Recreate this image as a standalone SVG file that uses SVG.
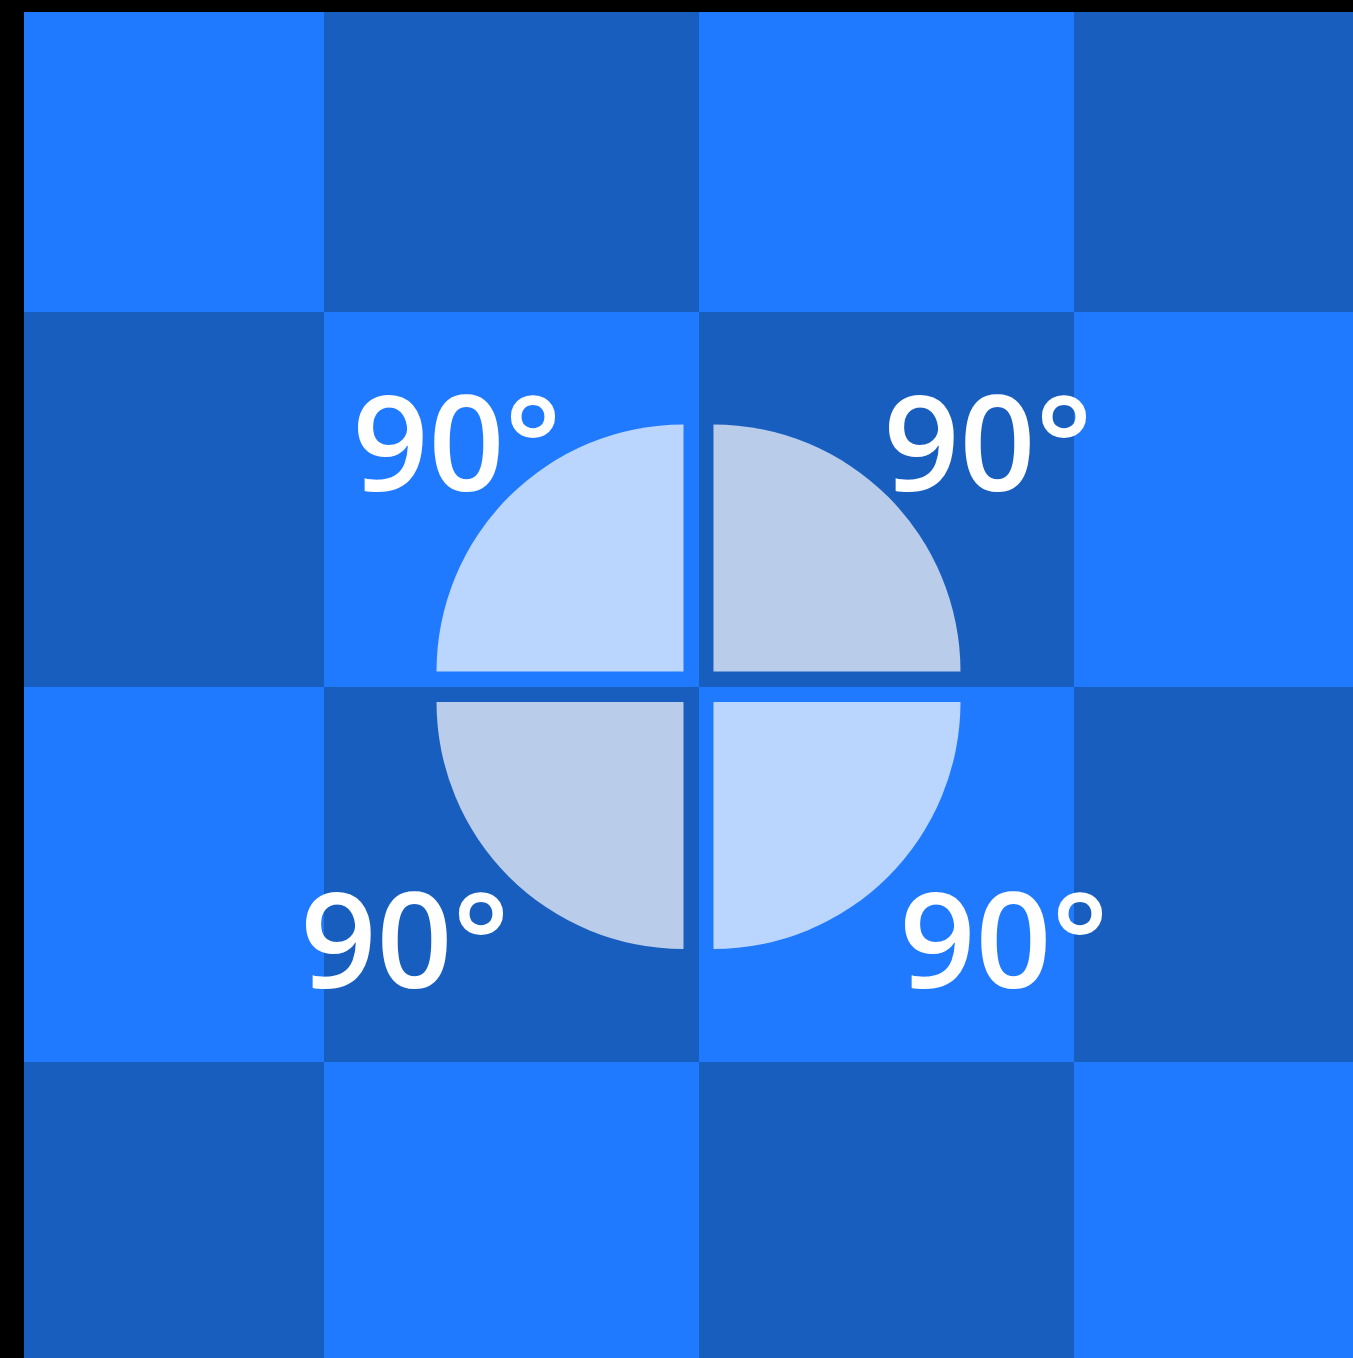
<svg xmlns="http://www.w3.org/2000/svg" width="1353" height="1358" viewBox="0 0 1353 1358">
<style>
.l{fill:#1f7aff}.d{fill:#185ebf}
.qa{fill:#bad6fe}.qb{fill:#b9cdeb}
.t{font-family:"Open Sans",sans-serif;font-weight:600;font-size:133px;fill:#ffffff;text-anchor:middle}
</style>
<rect x="0" y="0" width="1353" height="1358" fill="#000000"/>
<g id="grid">
<rect class="l" x="24" y="12" width="300" height="300"/>
<rect class="d" x="324" y="12" width="375" height="300"/>
<rect class="l" x="699" y="12" width="375" height="300"/>
<rect class="d" x="1074" y="12" width="279" height="300"/>
<rect class="d" x="24" y="312" width="300" height="375"/>
<rect class="l" x="324" y="312" width="375" height="375"/>
<rect class="d" x="699" y="312" width="375" height="375"/>
<rect class="l" x="1074" y="312" width="279" height="375"/>
<rect class="l" x="24" y="687" width="300" height="375"/>
<rect class="d" x="324" y="687" width="375" height="375"/>
<rect class="l" x="699" y="687" width="375" height="375"/>
<rect class="d" x="1074" y="687" width="279" height="375"/>
<rect class="d" x="24" y="1062" width="300" height="296"/>
<rect class="l" x="324" y="1062" width="375" height="296"/>
<rect class="d" x="699" y="1062" width="375" height="296"/>
<rect class="l" x="1074" y="1062" width="279" height="296"/>
</g>
<g id="circle">
<path id="q-tl" class="qa" d="M683.5,671.5 L436.5,671.5 A247,247 0 0 1 683.5,424.5 Z"/>
<path id="q-tr" class="qb" d="M713.5,671.5 L713.5,424.5 A247,247 0 0 1 960.5,671.5 Z"/>
<path id="q-bl" class="qb" d="M683.5,702 L683.5,949 A247,247 0 0 1 436.5,702 Z"/>
<path id="q-br" class="qa" d="M713.5,702 L960.5,702 A247,247 0 0 1 713.5,949 Z"/>
</g>
<g id="labels">
<text class="t" x="457" y="491">90°</text>
<text class="t" x="988" y="491">90°</text>
<text class="t" x="405" y="988">90°</text>
<text class="t" x="1004" y="988">90°</text>
</g>
</svg>
